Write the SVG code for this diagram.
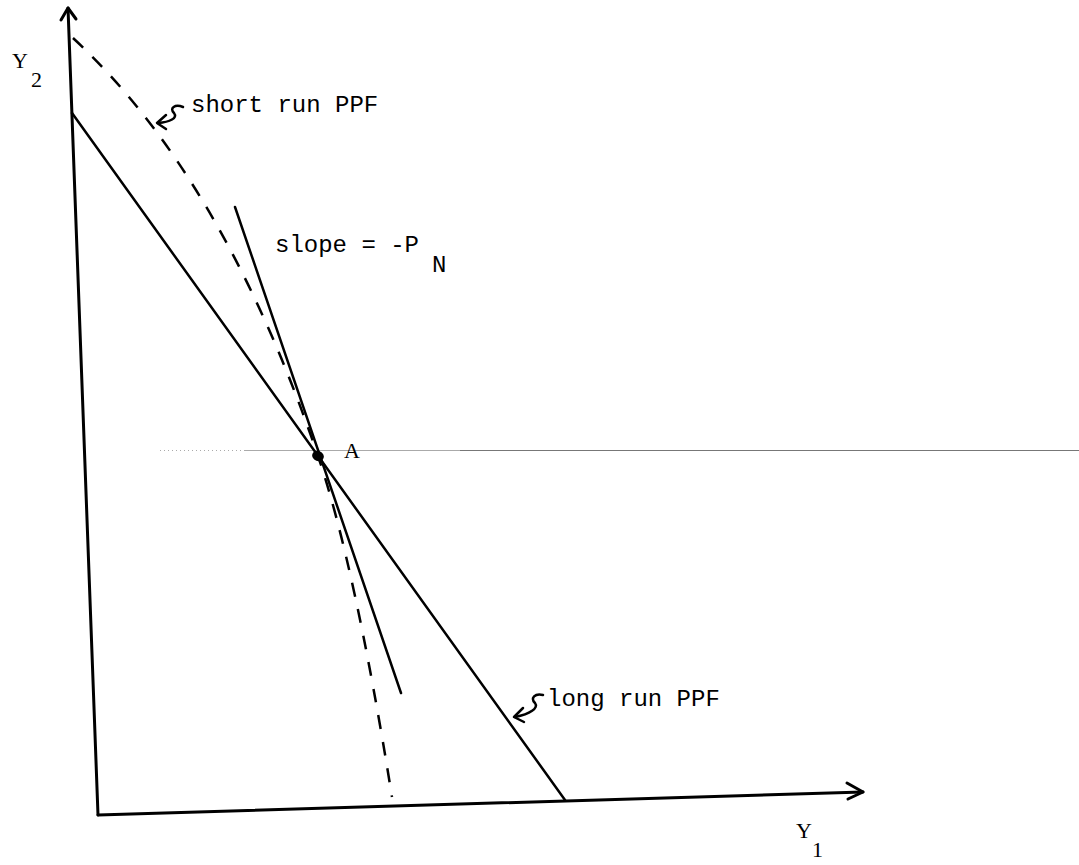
<svg xmlns="http://www.w3.org/2000/svg" width="1079" height="865" viewBox="0 0 1079 865">
<style>
.ln{fill:none;stroke:#000;stroke-width:2.5;stroke-linecap:round;stroke-linejoin:round}
.ax{fill:none;stroke:#000;stroke-width:3;stroke-linecap:round;stroke-linejoin:round}
.ds{fill:none;stroke:#000;stroke-width:2.5;stroke-dasharray:14 13}
.mono{font-family:"Liberation Mono","DejaVu Sans Mono",monospace;font-size:24px;fill:#000}
.ser{font-family:"Liberation Serif","DejaVu Serif",serif;font-size:22px;fill:#000}
.sq{fill:none;stroke:#000;stroke-width:2.5;stroke-linecap:round;stroke-linejoin:round}
</style>
<rect width="1079" height="865" fill="#fff"/>
<g id="guide">
<line x1="160" y1="450.5" x2="245" y2="450.5" stroke="#aaa" stroke-width="1" stroke-dasharray="1 3"/>
<line x1="245" y1="450.5" x2="460" y2="450.5" stroke="#aaa" stroke-width="1"/>
<line x1="460" y1="450.5" x2="1079" y2="450.5" stroke="#777" stroke-width="1"/>
</g>
<g id="connectors">
<path id="y-axis" class="ax" d="M98,815 L68,8"/>
<path class="ax" d="M61,20 L68,8 L76,19"/>
<path id="x-axis" class="ax" d="M98,815 L863,792"/>
<path class="ax" d="M847,783 L863,792 L848,799"/>
<path id="long-run" class="ln" d="M72,113 L565,800"/>
<path id="tangent" class="ln" d="M235,207 L401,693"/>
<path id="short-run" class="ds" d="M73,38 Q223,177 318,456 Q354.7,564 392,797"/>
</g>
<g id="point-A">
<ellipse cx="318" cy="456" rx="6" ry="5" fill="#000" transform="rotate(20 318 456)"/>
<text class="ser" x="344" y="458">A</text>
</g>
<g id="label-Y2">
<text class="ser" x="12" y="68">Y</text>
<text class="ser" x="31" y="87">2</text>
</g>
<g id="label-Y1">
<text class="ser" x="796" y="838">Y</text>
<text class="ser" x="812" y="857">1</text>
</g>
<g id="label-short-run">
<path class="sq" d="M183,107 C175,104 169,108 174,113 C178,118 170,122 158,123"/>
<path class="sq" d="M166,115 L157,123 L166,129"/>
<text class="mono" x="191" y="112">short run PPF</text>
</g>
<g id="label-slope">
<text class="mono" x="275" y="252">slope = -P</text>
<text class="mono" x="432" y="272">N</text>
</g>
<g id="label-long-run">
<path class="sq" d="M543,695 C535,693 530,698 535,703 C539,708 530,714 515,717"/>
<path class="sq" d="M523,708 L514,717 L524,722"/>
<text class="mono" x="547" y="706">long run PPF</text>
</g>
</svg>
